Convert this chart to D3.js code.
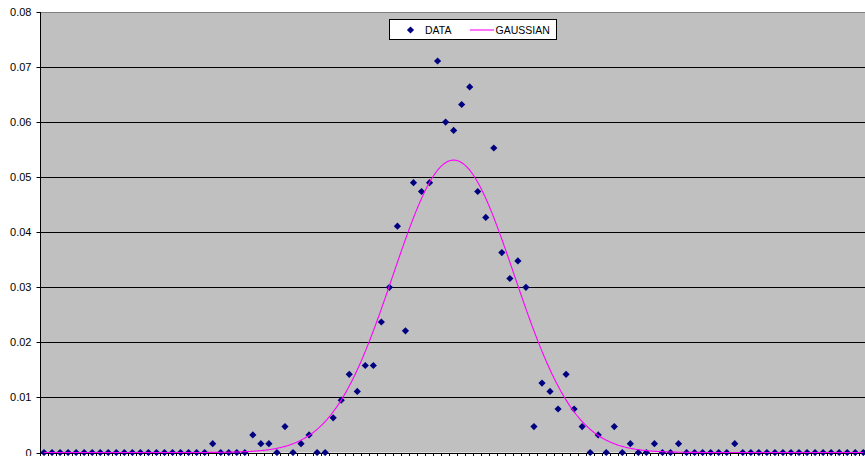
<!DOCTYPE html>
<html>
<head>
<meta charset="utf-8">
<script src="https://cdn.jsdelivr.net/npm/d3@7"></script>
<style>
  html, body { margin: 0; padding: 0; background: #ffffff; overflow: hidden; }
  svg { display: block; }
  text { font-family: "Liberation Sans", Arial, sans-serif; fill: #000; }
</style>
</head>
<body>
<svg id="chart" width="865" height="456"></svg>
<script>
// Histogram bins (relative frequency per bin)
const dataValues = [
  // bins 0-20
  0, 0, 0, 0, 0, 0, 0, 0, 0, 0, 0, 0, 0, 0, 0, 0, 0, 0, 0, 0, 0,
  // bins 21-30
  0.0016, 0, 0, 0, 0, 0.0032, 0.0016, 0.0016, 0, 0.0047,
  // bins 31-40
  0, 0.0016, 0.0032, 0, 0, 0.0063, 0.0095, 0.0142, 0.0111, 0.0158,
  // bins 41-50
  0.0158, 0.0237, 0.0300, 0.0411, 0.0221, 0.0490, 0.0474, 0.0490, 0.0711, 0.0600,
  // bins 51-60
  0.0585, 0.0632, 0.0664, 0.0474, 0.0427, 0.0553, 0.0363, 0.0316, 0.0348, 0.0300,
  // bins 61-70
  0.0047, 0.0126, 0.0111, 0.0079, 0.0142, 0.0079, 0.0047, 0, 0.0032, 0,
  // bins 71-80
  0.0047, 0, 0.0016, 0, 0, 0.0016, 0, 0, 0.0016, 0,
  // bins 81-90
  0, 0, 0, 0, 0, 0.0016, 0, 0, 0, 0,
  // bins 91-102
  0, 0, 0, 0, 0, 0, 0, 0, 0, 0, 0, 0
];
const categories = dataValues.map((_, i) => i);

// Fitted normal curve: peak height, centre bin, spread in bins
const gaussAmplitude = [0.0531];
const gaussMean = [51.0];
const gaussSigma = [7.55];

const yTicks = [0, 0.01, 0.02, 0.03, 0.04, 0.05, 0.06, 0.07, 0.08];
const legendLabels = ["DATA", "GAUSSIAN"];

const svg = d3.select("#chart");
const W = 865, H = 456;
const plotLeft = 40, plotTop = 12, plotBottom = 452.5;
const binWidth = 8.032;

const x = d3.scaleBand()
  .domain(categories)
  .range([plotLeft, plotLeft + categories.length * binWidth])
  .padding(0);
const xIdx = d3.scaleLinear()
  .domain([0, categories.length - 1])
  .range([x(0) + x.bandwidth() / 2, x(categories.length - 1) + x.bandwidth() / 2]);
const y = d3.scaleLinear().domain([0, 0.08]).range([plotBottom, plotTop]);
const crisp = v => Math.round(v) + 0.5;

const plotRight = x.range()[1];

svg.append("rect").attr("width", W).attr("height", H).attr("fill", "#fff");

// plot area
svg.append("rect")
  .attr("x", plotLeft).attr("y", plotTop)
  .attr("width", plotRight - plotLeft).attr("height", plotBottom - plotTop)
  .attr("fill", "#C0C0C0");

// horizontal gridlines
svg.append("g").selectAll("line")
  .data(yTicks.filter(v => v > 0))
  .join("line")
  .attr("x1", plotLeft).attr("x2", plotRight)
  .attr("y1", d => crisp(y(d))).attr("y2", d => crisp(y(d)))
  .attr("stroke", d => d === 0.08 ? "#808080" : "#000")
  .attr("stroke-width", 1);

// y axis
const yAxis = d3.axisLeft(y)
  .tickValues(yTicks)
  .tickFormat(d => d === 0 ? "0" : d3.format(".2f")(d))
  .tickSize(4)
  .tickPadding(5);
const gy = svg.append("g").attr("transform", `translate(${plotLeft + 0.5},0)`).call(yAxis);
gy.select(".domain").attr("stroke", "#000").attr("d", `M0,${plotTop}V${plotBottom + 0.5}`);
gy.selectAll(".tick").attr("transform", d => `translate(0,${crisp(y(d))})`);
gy.selectAll(".tick line").attr("stroke", "#000");
gy.selectAll(".tick text")
  .style("font-family", '"Liberation Sans", Arial, sans-serif')
  .style("font-size", "11px")
  .attr("fill", "#000");

// x axis: baseline with tick marks on bin boundaries
const gx = svg.append("g");
gx.append("line")
  .attr("x1", plotLeft).attr("x2", plotRight)
  .attr("y1", crisp(y(0))).attr("y2", crisp(y(0)))
  .attr("stroke", "#000");
gx.selectAll("line.tk")
  .data(d3.range(categories.length + 1))
  .join("line").attr("class", "tk")
  .attr("x1", k => crisp(plotLeft + k * x.step() - 0.5))
  .attr("x2", k => crisp(plotLeft + k * x.step() - 0.5))
  .attr("y1", crisp(y(0))).attr("y2", crisp(y(0)) + 5)
  .attr("stroke", "#000");

// diamond marker
const diamond = d3.symbol().type(d3.symbolSquare).size(26);

svg.append("g").selectAll("path")
  .data(dataValues)
  .join("path")
  .attr("d", diamond)
  .attr("transform", (d, i) => `translate(${xIdx(i)},${y(d)}) rotate(45)`)
  .attr("fill", "#000080");

// gaussian curve
const gaussPts = d3.range(0, categories.length - 1 + 1e-9, 0.1).map(t => [
  t,
  gaussAmplitude[0] * Math.exp(-((t - gaussMean[0]) ** 2) / (2 * gaussSigma[0] ** 2))
]);
svg.append("path")
  .datum(gaussPts)
  .attr("fill", "none")
  .attr("stroke", "#FF00FF")
  .attr("stroke-width", 1.1)
  .attr("d", d3.line().x(d => xIdx(d[0])).y(d => y(d[1])));

// legend
const lg = svg.append("g");
lg.append("rect")
  .attr("x", 389.5).attr("y", 19.5).attr("width", 167).attr("height", 20)
  .attr("fill", "#fff").attr("stroke", "#000");
lg.append("path").attr("d", diamond).attr("transform", "translate(410.5,30) rotate(45)").attr("fill", "#000080");
lg.append("text").attr("x", 425).attr("y", 30).attr("dy", "0.35em")
  .style("font-size", "10.5px").text(legendLabels[0]);
lg.append("line").attr("x1", 470).attr("x2", 494).attr("y1", 30).attr("y2", 30)
  .attr("stroke", "#FF00FF").attr("stroke-width", 1.1);
lg.append("text").attr("x", 495.5).attr("y", 30).attr("dy", "0.35em")
  .style("font-size", "10.5px").text(legendLabels[1]);
</script>
</body>
</html>
